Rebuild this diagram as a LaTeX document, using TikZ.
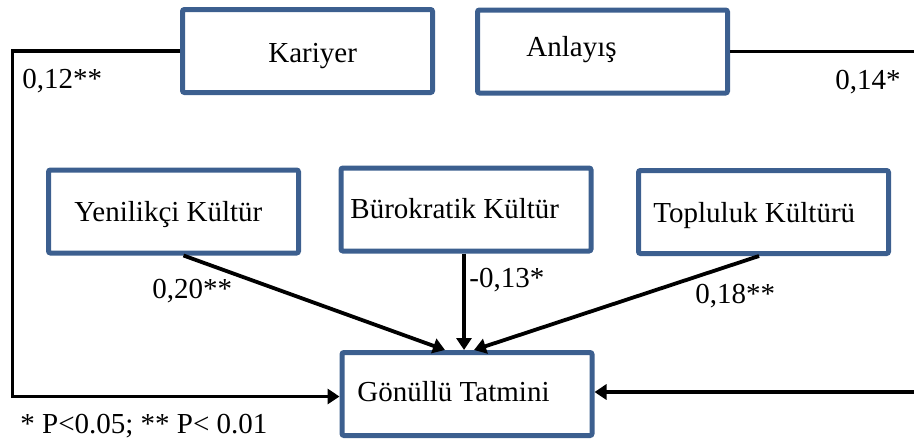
\documentclass[tikz,border=0pt]{standalone}
\usepackage{fontspec}
\setmainfont{Liberation Serif}
\usepackage{tikz}
\usetikzlibrary{arrows.meta,positioning}
\definecolor{kutumavi}{HTML}{3C5F8F}
\tikzstyle{kutu} = [rectangle, draw=kutumavi, line width=2.5pt, rounded corners=1pt,
                    minimum width=125pt, minimum height=41.5pt, inner sep=0pt]
\tikzstyle{yazi} = [anchor=base west, inner sep=0pt, font=\fontsize{14.5}{17}\selectfont]
\tikzstyle{ok} = [-{Triangle[length=6pt,width=7.5pt]}, line width=1.9pt, line join=miter]

\begin{document}
\begin{tikzpicture}[x=0.5pt, y=-0.5pt]
    \clip (0,0) rectangle (914,439);
    % kutular
    \node [kutu] (kariyer)    at (307.5,51)  {};
    \node [kutu] (anlayis)    at (602.5,51.5) {};
    \node [kutu] (yenilikci)  at (173.5,211.5) {};
    \node [kutu] (burokratik) at (466,209.5) {};
    \node [kutu] (topluluk)   at (763.5,212) {};
    \node [kutu] (gonullu)    at (467,394)   {};

    % kutu yazilari
    \node [yazi] (kariyer-y)    at (268,62)  {Kariyer};
    \node [yazi] (anlayis-y)    at (526,56)  {Anlayış};
    \node [yazi] (yenilikci-y)  at (74,221)  {Yenilikçi Kültür};
    \node [yazi] (burokratik-y) at (350,218) {Bürokratik Kültür};
    \node [yazi] (topluluk-y)   at (653,222) {Topluluk Kültürü};
    \node [yazi] (gonullu-y)    at (357,401) {Gönüllü Tatmini};

    % katsayilar
    \node [yazi] (k12) at (22,88)   {0,12**};
    \node [yazi] (k14) at (835,89)  {0,14*};
    \node [yazi] (k20) at (152,298) {0,20**};
    \node [yazi] (k13) at (469,287) {-0,13*};
    \node [yazi] (k18) at (695,303) {0,18**};
    \node [yazi] (dipnot) at (20,433) {* P<0.05; ** P< 0.01};

    \coordinate (solust) at (12.5,51);
    \coordinate (solalt) at (12.5,396.5);
    \coordinate (sagust) at (925,51.5);
    \coordinate (sagalt) at (925,392);

    \draw [ok] ([xshift=5pt]yenilikci.south) -- ([xshift=-11pt]gonullu.north);
    \draw [ok] ([xshift=-1pt]burokratik.south) -- ([xshift=-1.5pt]gonullu.north);
    \draw [ok] ([xshift=-2.25pt]topluluk.south) -- ([xshift=3.5pt]gonullu.north);
    \draw [ok] (kariyer.west) -- (solust) -- (solalt) -- (solalt -| gonullu.west);
    \draw [ok] (anlayis.east) -- (sagust) -- (sagalt) -- (sagalt -| gonullu.east);
\end{tikzpicture}
\end{document}
